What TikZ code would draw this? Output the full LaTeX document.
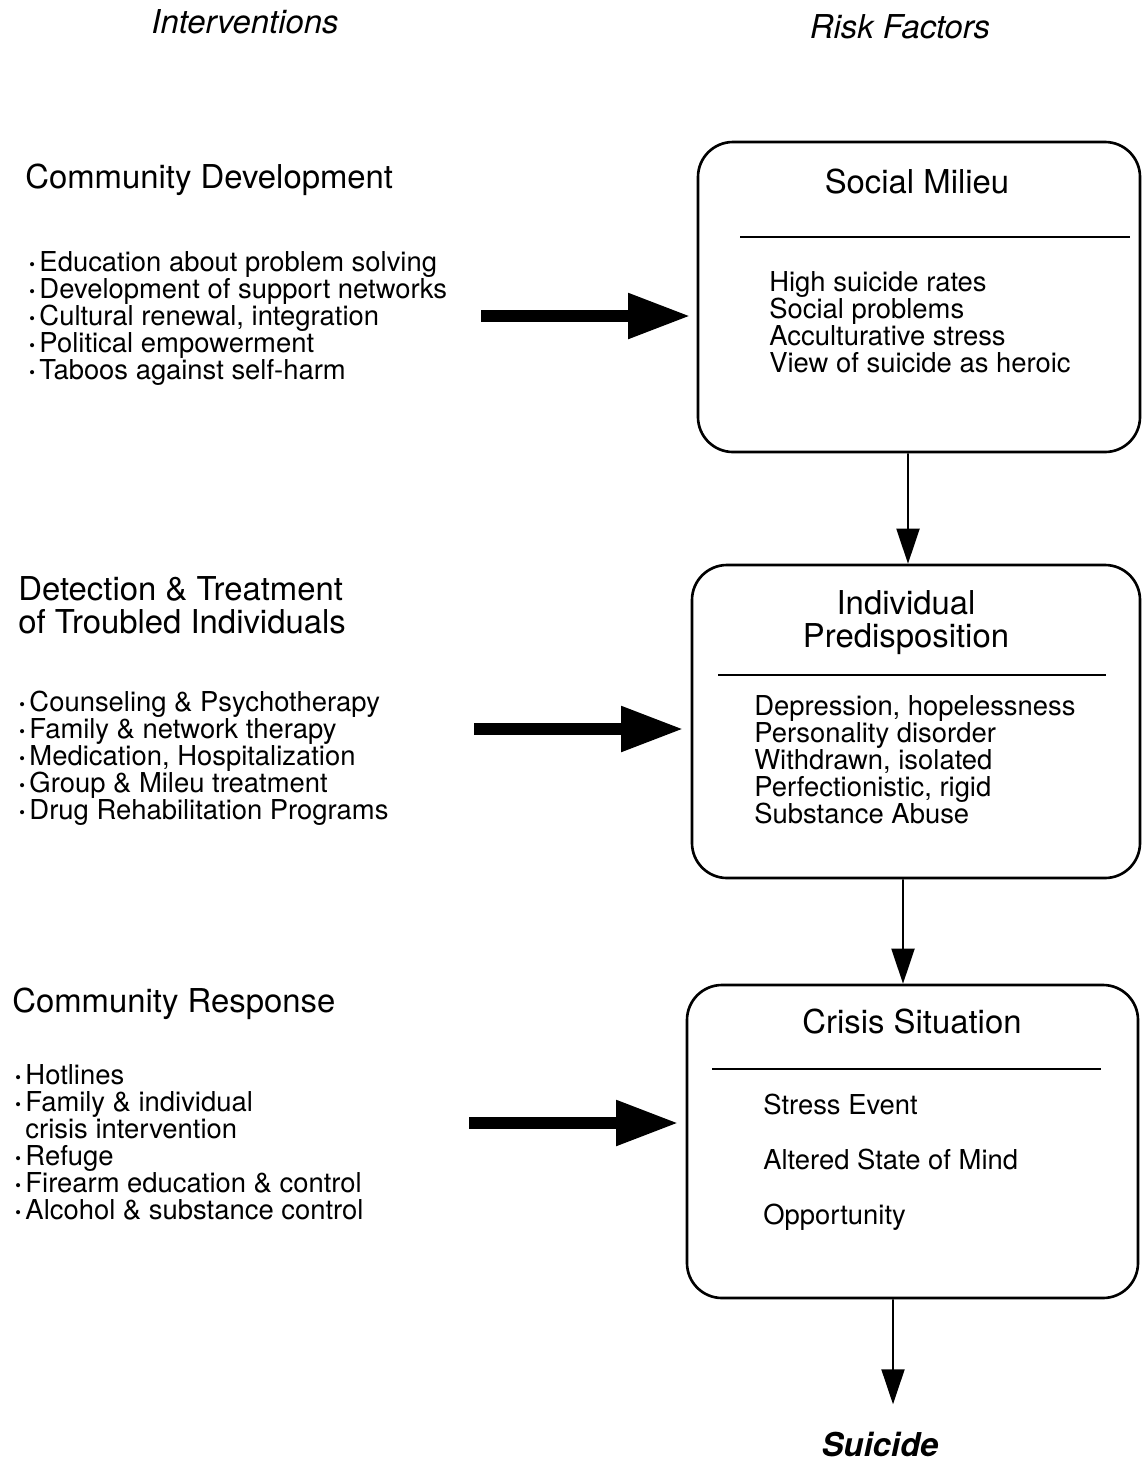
\documentclass[tikz,border=0pt]{standalone}
\usepackage{fontspec}
\setmainfont{TeX Gyre Heros}
\usetikzlibrary{arrows.meta}
\def\bul{{\bfseries\textperiodcentered}\hspace{2pt}}
\def\headfont{\fontsize{18.7}{18.8}\selectfont}
\tikzset{
	riskbox/.style={draw, line width=1.5pt, rounded corners=0.7cm, inner sep=0pt},
	heading/.style={font=\headfont, inner sep=0pt},
	items/.style={font=\fontsize{15.6}{15.37}\selectfont, align=left, inner sep=0pt, anchor=north west},
	fatarrow/.style={line width=0.25cm, -{Triangle[length=1.25cm, width=0.85cm]}},
	flow/.style={line width=1.1pt, -{Triangle[length=0.7cm, width=0.46cm]}},
	divider/.style={line width=1.3pt}
}

\begin{document}
\begin{tikzpicture}
			%%%%% START %%%%%
			\useasboundingbox (0, 0) rectangle (22.84, -29.26);
			
			\node[heading, font=\headfont\itshape] (intHead) at (4.9, -0.44) {Interventions};
			\node[heading, font=\headfont\itshape] (riskHead) at (18.0, -0.54) {Risk Factors};
			
			% risk factor boxes
			\node[riskbox, minimum width=8.84cm, minimum height=6.2cm] (milieu) at (18.38, -5.94) {};
			\node[heading] (milieuTitle) at (18.34, -3.64) {Social Milieu};
			\draw[divider] (14.8, -4.74) -- (22.6, -4.74);
			\node[items] (milieuList) at (15.38, -5.42) {High suicide rates\\Social problems\\Acculturative stress\\View of suicide as heroic};
			
			\node[riskbox, minimum width=8.96cm, minimum height=6.26cm] (predisp) at (18.32, -14.43) {};
			\node[heading, align=center] (predispTitle) at (18.12, -12.46) {Individual\\Predisposition};
			\draw[divider] (14.36, -13.5) -- (22.12, -13.5);
			\node[items] (predispList) at (15.08, -13.9) {Depression, hopelessness\\Personality disorder\\Withdrawn, isolated\\Perfectionistic, rigid\\Substance Abuse};
			
			\node[riskbox, minimum width=9.02cm, minimum height=6.26cm] (crisis) at (18.25, -22.83) {};
			\node[heading] (crisisTitle) at (18.24, -20.44) {Crisis Situation};
			\draw[divider] (14.24, -21.38) -- (22.02, -21.38);
			\node[items, font=\fontsize{15.6}{31.3}\selectfont] (crisisList) at (15.26, -21.88) {Stress Event\\Altered State of Mind\\Opportunity};
			
			\node[heading, font=\headfont\bfseries\itshape] (suicide) at (17.6, -28.9) {Suicide};
			
			\draw[flow] ([xshift=-0.22cm]milieu.south) -- ([xshift=-0.16cm]predisp.north);
			\draw[flow] ([xshift=-0.26cm]predisp.south) -- ([xshift=-0.19cm]crisis.north);
			\draw[flow, shorten >=0.56cm] ([xshift=-0.39cm]crisis.south) -- ([xshift=0.26cm]suicide.north);
			
			% interventions
			\node[heading, anchor=base west] (devHead) at (0.5, -3.76) {Community Development};
			\node[items] (devList) at (0.56, -5.02) {\bul Education about problem solving\\\bul Development of support networks\\\bul Cultural renewal, integration\\\bul Political empowerment\\\bul Taboos against self-harm};
			\coordinate (devStart) at (9.62, -6.32);
			\draw[fatarrow, shorten >=0.12cm] (devStart) -- (devStart -| milieu.west);
			
			\node[heading, align=left, anchor=north west] (treatHead) at (0.36, -11.53) {Detection \& Treatment\\of Troubled Individuals};
			\node[items] (treatList) at (0.36, -13.82) {\bul Counseling \& Psychotherapy\\\bul Family \& network therapy\\\bul Medication, Hospitalization\\\bul Group \& Mileu treatment\\\bul Drug Rehabilitation Programs};
			\coordinate (treatStart) at (9.48, -14.58);
			\draw[fatarrow, shorten >=0.14cm] (treatStart) -- (treatStart -| predisp.west);
			
			\node[heading, anchor=base west] (respHead) at (0.24, -20.24) {Community Response};
			\node[items] (respList) at (0.28, -21.28) {\bul Hotlines\\\bul Family \& individual\\\phantom{\bul}crisis intervention\\\bul Refuge\\\bul Firearm education \& control\\\bul Alcohol \& substance control};
			\coordinate (respStart) at (9.38, -22.46);
			\draw[fatarrow, shorten >=0.14cm] (respStart) -- (respStart -| crisis.west);
			
			%%%%% END %%%%%
\end{tikzpicture}
\end{document}
